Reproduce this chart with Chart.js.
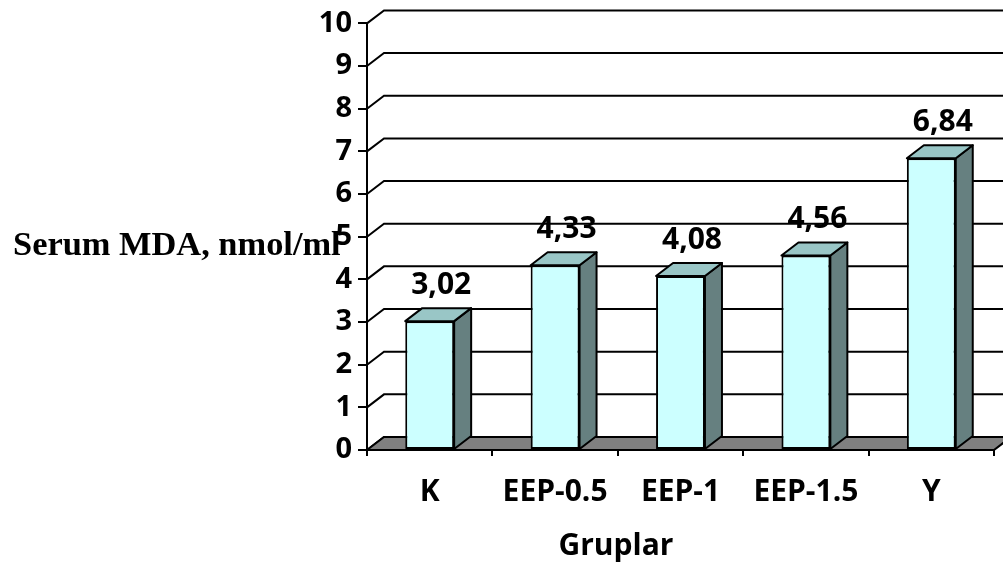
<!DOCTYPE html>
<html>
<head>
<meta charset="utf-8">
<script src="https://cdn.jsdelivr.net/npm/chart.js@4.4.1/dist/chart.umd.min.js"></script>
<style>
  html, body { margin: 0; padding: 0; background: #fff; }
  canvas { display: block; }
</style>
</head>
<body>
<canvas id="mda" width="1003" height="568"></canvas>
<script>
// gruplar ve serum MDA degerleri
const gruplar = ['K', 'EEP-0.5', 'EEP-1', 'EEP-1.5', 'Y'];
const mdaDegerleri = [3.02, 4.33, 4.08, 4.56, 6.84];
const yTicks = [0, 1, 2, 3, 4, 5, 6, 7, 8, 9, 10];

const DX = 17;   // derinlik (yatay)
const DY = 13;   // derinlik (dikey)
const YAZI = '"Open Sans"';

function etiket(v) {
  return v.toFixed(2).replace('.', ',');
}

// 3B gorunum: zemin, arka duvar cizgileri, yan ve ust yuzler
const derinlik = {
  id: 'derinlik',
  beforeDatasetsDraw(chart) {
    const ctx = chart.ctx;
    const y = chart.scales.y;
    const x = chart.scales.x;
    const left = x.left, right = x.right;
    ctx.save();
    ctx.strokeStyle = '#000';
    ctx.lineWidth = 2;
    // arka duvar cizgileri
    yTicks.forEach(function(v) {
      const py = y.getPixelForValue(v);
      ctx.beginPath();
      ctx.moveTo(left, py);
      ctx.lineTo(left + DX, py - DY);
      ctx.lineTo(right + DX, py - DY);
      ctx.stroke();
    });
    // zemin
    const p0 = y.getPixelForValue(0);
    ctx.beginPath();
    ctx.moveTo(left, p0);
    ctx.lineTo(left + DX, p0 - DY);
    ctx.lineTo(right + DX, p0 - DY);
    ctx.lineTo(right, p0);
    ctx.closePath();
    ctx.fillStyle = '#808080';
    ctx.fill();
    ctx.stroke();
    ctx.restore();
  },
  afterDatasetsDraw(chart) {
    const ctx = chart.ctx;
    const meta = chart.getDatasetMeta(0);
    ctx.save();
    ctx.strokeStyle = '#000';
    ctx.lineWidth = 2;
    ctx.lineJoin = 'round';
    meta.data.forEach(function(bar, i) {
      const p = bar.getProps(['x', 'y', 'width', 'base'], true);
      const l = p.x - p.width / 2;
      const r = p.x + p.width / 2;
      // yan yuz
      ctx.beginPath();
      ctx.moveTo(r, p.y);
      ctx.lineTo(r + DX, p.y - DY);
      ctx.lineTo(r + DX, p.base - DY);
      ctx.lineTo(r, p.base);
      ctx.closePath();
      ctx.fillStyle = '#668080';
      ctx.fill();
      ctx.stroke();
      // ust yuz
      ctx.beginPath();
      ctx.moveTo(l, p.y);
      ctx.lineTo(l + DX, p.y - DY);
      ctx.lineTo(r + DX, p.y - DY);
      ctx.lineTo(r, p.y);
      ctx.closePath();
      ctx.fillStyle = '#99C6C6';
      ctx.fill();
      ctx.stroke();
      // deger etiketi
      ctx.fillStyle = '#000';
      ctx.font = 'bold 30px ' + YAZI;
      ctx.textAlign = 'center';
      ctx.textBaseline = 'alphabetic';
      ctx.fillText(etiket(mdaDegerleri[i]), p.x + DX / 2 + 3, p.y - DY - 14);
    });
    ctx.restore();
  },
  afterDraw(chart) {
    const ctx = chart.ctx;
    ctx.save();
    ctx.fillStyle = '#000';
    ctx.font = 'bold 34.4px "Liberation Serif", "Times New Roman", serif';
    ctx.textAlign = 'left';
    ctx.textBaseline = 'alphabetic';
    ctx.fillText('Serum MDA, nmol/ml', 13, 255);
    // x ekseni basligi
    ctx.font = 'bold 30px ' + YAZI;
    ctx.textAlign = 'center';
    ctx.fillText('Gruplar', 616, 555);
    ctx.restore();
  }
};

new Chart(document.getElementById('mda'), {
  type: 'bar',
  data: {
    labels: gruplar,
    datasets: [{
      label: 'Serum MDA',
      data: mdaDegerleri,
      backgroundColor: '#CCFFFF',
      borderColor: '#000',
      borderWidth: 2,
      borderSkipped: false,
      barPercentage: 0.39,
      categoryPercentage: 1
    }]
  },
  plugins: [derinlik],
  options: {
    responsive: false,
    animation: false,
    layout: { padding: { left: 0, right: 9, top: 23, bottom: 0 } },
    plugins: {
      legend: { display: false },
      tooltip: { enabled: false }
    },
    scales: {
      x: {
        afterFit: function(scale) { scale.height = 118; },
        grid: {
          offset: true,
          drawOnChartArea: false,
          drawTicks: true,
          tickLength: 6,
          color: '#000',
          lineWidth: 2
        },
        border: { display: true, color: '#000', width: 2 },
        ticks: {
          color: '#000',
          padding: 18,
          font: { family: YAZI, size: 30, weight: 'bold' }
        },
        title: { display: false }
      },
      y: {
        min: 0,
        max: 10,
        afterFit: function(scale) { scale.width = 367; },
        grid: {
          drawOnChartArea: false,
          drawTicks: true,
          tickLength: 9,
          color: '#000',
          lineWidth: 2
        },
        border: { display: true, color: '#000', width: 2 },
        ticks: {
          stepSize: 1,
          color: '#000',
          padding: 6,
          font: { family: YAZI, size: 29, weight: 'bold' }
        }
      }
    }
  }
});
</script>
</body>
</html>
